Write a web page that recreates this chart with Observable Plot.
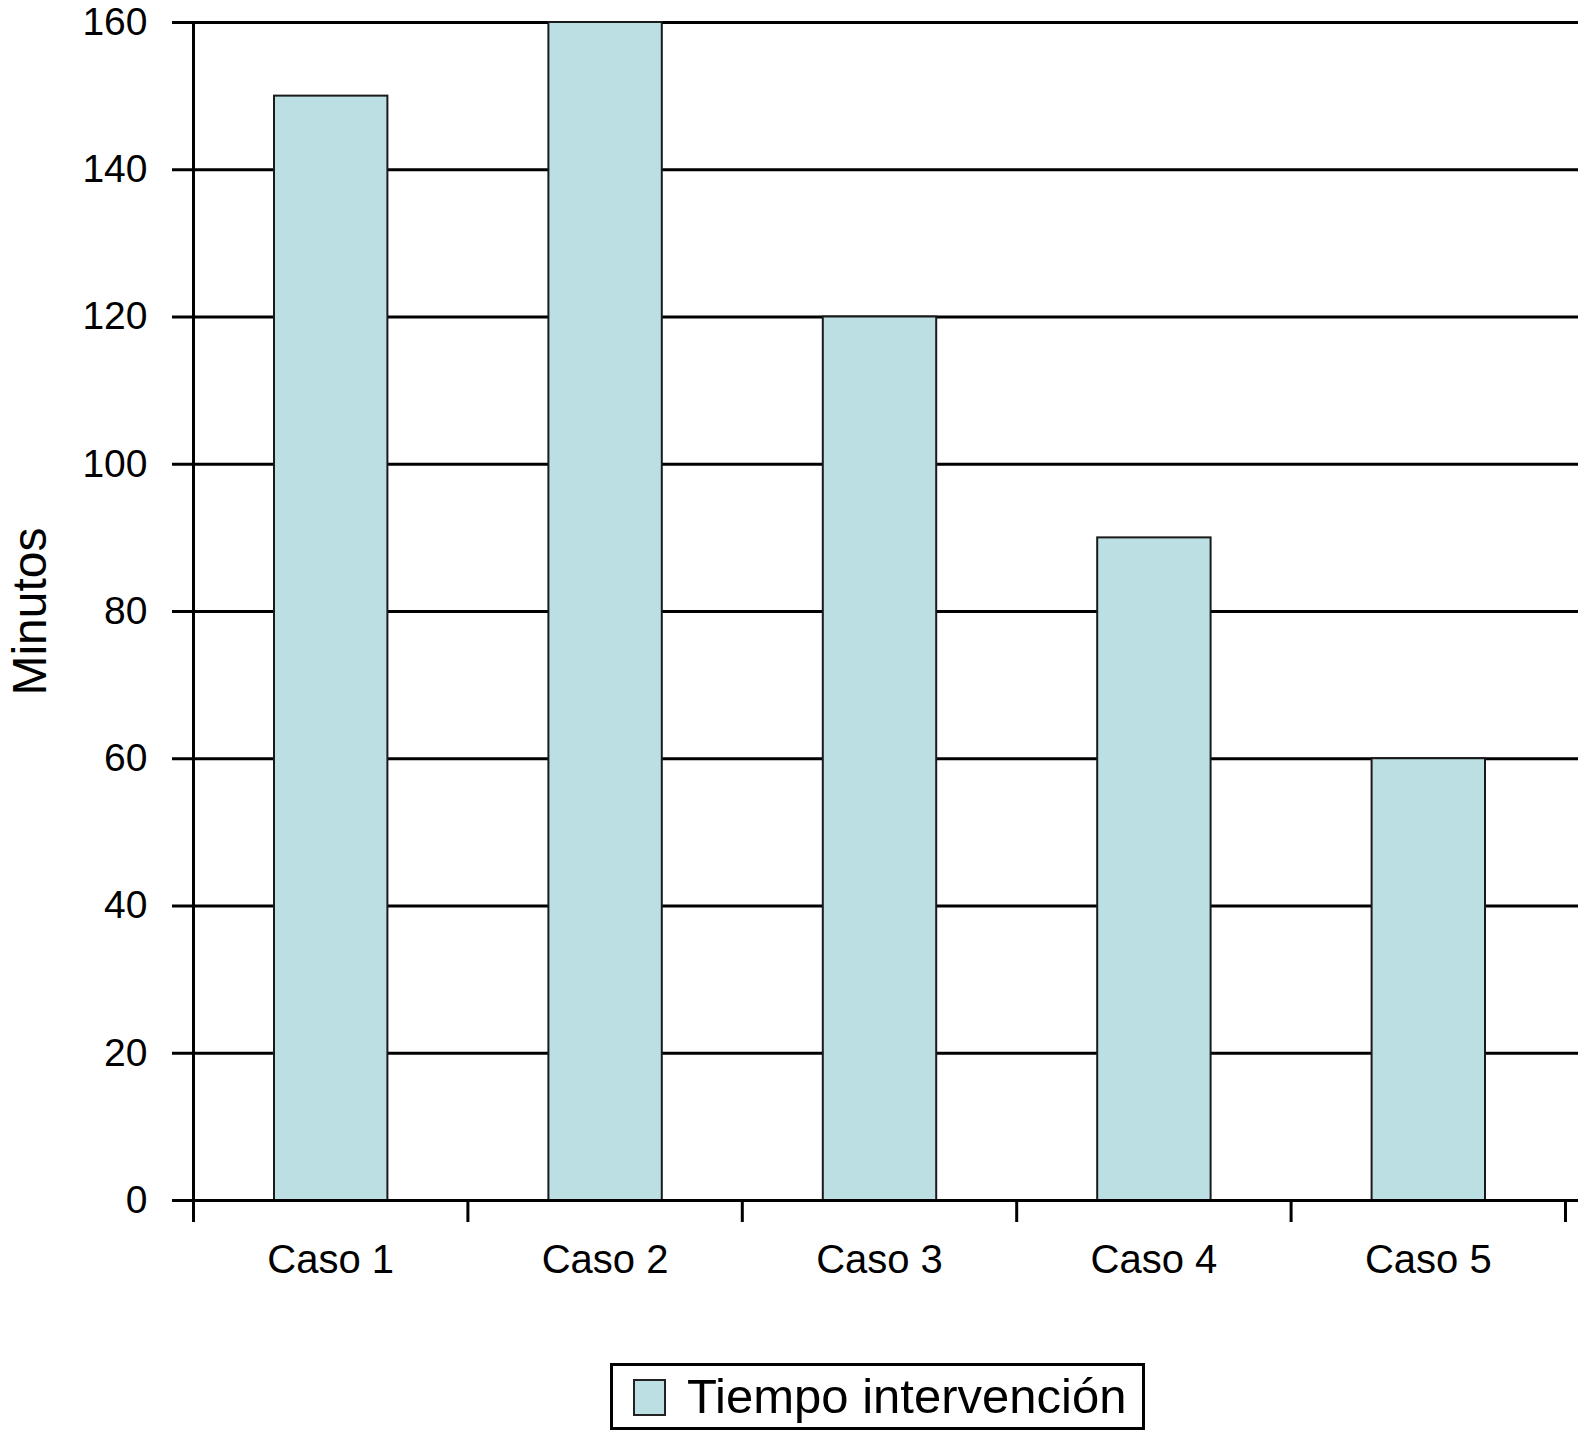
<!DOCTYPE html>
<html>
<head>
<meta charset="utf-8">
<script src="https://cdn.jsdelivr.net/npm/d3@7"></script>
<script src="https://cdn.jsdelivr.net/npm/@observablehq/plot@0.6"></script>
<style>
  html, body { margin: 0; padding: 0; background: #fff; }
  body { font-family: "Liberation Sans", Arial, sans-serif; width: 1578px; height: 1434px; position: relative; overflow: hidden; }
  #chart svg { display: block; }
  #legend { position: absolute; left: 610px; top: 1363px; width: 529px; height: 61px; border: 3px solid #000; background: #fff; }
  #legend .sw { position: absolute; left: 20px; top: 13px; width: 29px; height: 33px; background: #bbdfe2; border: 2px solid #222; }
  #legend .lb { position: absolute; left: 74px; top: 1px; font-size: 49px; line-height: 58px; color: #000; white-space: nowrap; }
</style>
</head>
<body>
<div id="chart"></div>
<div id="legend"><div class="sw"></div><div class="lb" id="legendLabel"></div></div>
<script>
// ---- data ----
const cases = ["Caso 1", "Caso 2", "Caso 3", "Caso 4", "Caso 5"];
const minutos = [150, 160, 120, 90, 60];
const yTicks = [0, 20, 40, 60, 80, 100, 120, 140, 160];
const seriesName = "Tiempo intervención";
const yLabel = "Minutos";

const data = cases.map((c, i) => ({caso: c, i, value: minutos[i]}));
const boundaries = d3.range(cases.length + 1);
const centers = cases.map((c, i) => i + 0.5);

const barFill = "#bbdfe2";

const plot = Plot.plot({
  width: 1578,
  height: 1350,
  marginTop: 22,
  marginBottom: 150,
  marginLeft: 193,
  marginRight: 13,
  style: {fontFamily: "'Liberation Sans', Arial, sans-serif", color: "#000", background: "#fff"},
  x: {domain: [0, cases.length]},
  y: {domain: [0, 160]},
  marks: [
    // horizontal grid lines
    Plot.ruleY(yTicks.filter(t => t > 0), {stroke: "#000", strokeWidth: 3, insetRight: -13}),
    // bars
    Plot.rectY(data, {x1: "i", x2: d => d.i + 1, y: "value", fill: barFill, stroke: "#1a1a1a", strokeWidth: 2, insetLeft: 81, insetRight: 80}),
    // baseline
    Plot.ruleY([0], {stroke: "#000", strokeWidth: 3, insetRight: -13}),
    // vertical axis line
    Plot.ruleX([0], {stroke: "#000", strokeWidth: 3}),
    // y axis ticks + labels
    Plot.axisY({ticks: yTicks, tickSize: 21, tickPadding: 25, fontSize: 39, strokeWidth: 3, label: null, tickFormat: d => String(d)}),
    // y axis title
    Plot.axisY({ticks: [], label: yLabel, labelAnchor: "center", labelArrow: false, labelOffset: 182, fontSize: 48}),
    // x boundary ticks
    Plot.axisX({ticks: boundaries, tickSize: 22, strokeWidth: 3, tickFormat: () => "", label: null}),
    // x category labels
    Plot.axisX({ticks: centers, tickSize: 0, tickPadding: 44, fontSize: 40, tickFormat: d => cases[Math.round(d - 0.5)], label: null})
  ]
});
document.getElementById("chart").appendChild(plot);
document.getElementById("legendLabel").textContent = seriesName;
</script>
</body>
</html>
